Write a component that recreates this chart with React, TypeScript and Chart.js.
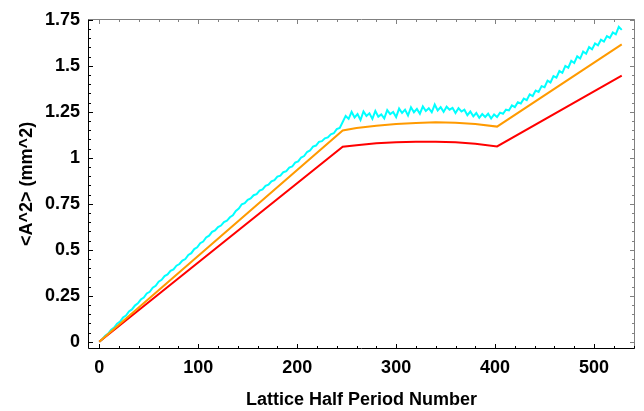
import React, { useEffect, useRef } from "react";
import { Chart, registerables } from "chart.js";

Chart.register(...registerables);

// ---- data ----
const cyanStep = 3; // spacing of cyan samples along x
const cyanValues = [
  0, 0.014, 0.033, 0.045, 0.066, 0.077, 0.099, 0.11, 0.132, 0.143,
  0.165, 0.176, 0.197, 0.209, 0.23, 0.241, 0.263, 0.272, 0.294, 0.305,
  0.327, 0.337, 0.357, 0.366, 0.386, 0.394, 0.414, 0.423, 0.442, 0.45,
  0.472, 0.482, 0.504, 0.514, 0.536, 0.545, 0.567, 0.577, 0.598, 0.606,
  0.624, 0.632, 0.651, 0.658, 0.677, 0.688, 0.712, 0.725, 0.748, 0.754,
  0.772, 0.779, 0.797, 0.803, 0.822, 0.829, 0.848, 0.854, 0.873, 0.879,
  0.898, 0.903, 0.922, 0.928, 0.947, 0.953, 0.974, 0.981, 1.002, 1.01,
  1.032, 1.04, 1.061, 1.067, 1.087, 1.091, 1.106, 1.111, 1.128, 1.134,
  1.156, 1.163,
  1.195, 1.228, 1.212, 1.25, 1.22, 1.238, 1.206, 1.252, 1.228, 1.242,
  1.212, 1.255, 1.224, 1.236, 1.215, 1.26, 1.238, 1.25, 1.222, 1.268,
  1.244, 1.262, 1.23, 1.275, 1.248, 1.266, 1.24, 1.28, 1.255, 1.27,
  1.248, 1.29, 1.258, 1.276, 1.25, 1.278, 1.262, 1.272, 1.244, 1.27,
  1.252, 1.262, 1.232, 1.252, 1.226, 1.244, 1.218, 1.238, 1.222, 1.24,
  1.214, 1.236,
  1.222, 1.246, 1.24, 1.262, 1.258, 1.285,
  1.276, 1.302, 1.296, 1.322, 1.314, 1.345, 1.336, 1.366, 1.358, 1.39,
  1.384, 1.42, 1.41, 1.444, 1.436, 1.472, 1.462, 1.5, 1.49, 1.528,
  1.516, 1.552, 1.54, 1.578, 1.566, 1.602, 1.59, 1.622, 1.612, 1.642,
  1.632, 1.662, 1.652, 1.682, 1.672, 1.712, 1.696,
];

const orangeX = [0, 246, 260, 280, 300, 320, 340, 360, 380, 402, 528];
const orangeY = [0, 1.149, 1.162, 1.175, 1.184, 1.19, 1.193, 1.191, 1.184, 1.17, 1.617];

const redX = [0, 246, 260, 280, 300, 320, 340, 360, 380, 402, 528];
const redY = [0, 1.06, 1.069, 1.079, 1.085, 1.088, 1.088, 1.085, 1.077, 1.062, 1.447];

const xTicks = [0, 100, 200, 300, 400, 500];
const xTickLabels = ["0", "100", "200", "300", "400", "500"];
const yTicks = [0, 0.25, 0.5, 0.75, 1, 1.25, 1.5, 1.75];
const yTickLabels = ["0", "0.25", "0.5", "0.75", "1", "1.25", "1.5", "1.75"];

const xTitle = "Lattice Half Period Number";
const yTitle = "<A^2> (mm^2)";

const X_MIN = -11.4;
const X_MAX = 541.4;
const Y_MIN = -0.039;
const Y_MAX = 1.756;
const X_MINOR = 20;
const Y_MINOR = 0.05;

const FONT = "'Liberation Sans', Arial, Helvetica, sans-serif";

const framePlugin = {
  id: "frameTicks",
  afterDatasetsDraw(chart: any) {
    const { ctx, chartArea, scales } = chart;
    const { left, right, top, bottom } = chartArea;
    const xs = scales.x;
    const ys = scales.y;
    const L = Math.round(left) + 0.5;
    const R = Math.round(right) - 0.5;
    const T = Math.round(top) + 0.5;
    const B = Math.round(bottom) - 0.5;
    ctx.save();
    ctx.lineWidth = 1;
    // frame
    ctx.strokeStyle = "#808080";
    ctx.beginPath();
    ctx.moveTo(L, T);
    ctx.lineTo(R, T);
    ctx.lineTo(R, B);
    ctx.stroke();
    ctx.strokeStyle = "#000";
    ctx.beginPath();
    ctx.moveTo(L, T);
    ctx.lineTo(L, B);
    ctx.lineTo(R, B);
    ctx.stroke();
    // x ticks
    for (let k = 0; k * X_MINOR <= X_MAX; k++) {
      const v = k * X_MINOR;
      const major = k % 5 === 0;
      const len = major ? 4.5 : 2.5;
      const px = Math.round(xs.getPixelForValue(v)) + 0.5;
      ctx.strokeStyle = "#000";
      ctx.beginPath();
      ctx.moveTo(px, B);
      ctx.lineTo(px, B - len);
      ctx.stroke();
      ctx.strokeStyle = "#808080";
      ctx.beginPath();
      ctx.moveTo(px, T);
      ctx.lineTo(px, T + len);
      ctx.stroke();
    }
    // y ticks
    for (let k = 0; k * Y_MINOR <= Y_MAX + 1e-9; k++) {
      const v = k * Y_MINOR;
      const major = k % 5 === 0;
      const len = major ? 4.5 : 2.5;
      const py = Math.round(ys.getPixelForValue(v)) + 0.5;
      ctx.strokeStyle = "#000";
      ctx.beginPath();
      ctx.moveTo(L, py);
      ctx.lineTo(L + len, py);
      ctx.stroke();
      ctx.strokeStyle = "#808080";
      ctx.beginPath();
      ctx.moveTo(R, py);
      ctx.lineTo(R - len, py);
      ctx.stroke();
    }
    ctx.restore();
  },
};

export default function App() {
  const ref = useRef<HTMLCanvasElement | null>(null);

  useEffect(() => {
    const canvas = ref.current;
    if (!canvas) return;

    const cyanPts = cyanValues.map((v, i) => ({ x: i * cyanStep, y: v }));
    const orangePts = orangeX.map((x, i) => ({ x, y: orangeY[i] }));
    const redPts = redX.map((x, i) => ({ x, y: redY[i] }));

    const chart = new Chart(canvas, {
      type: "line",
      data: {
        datasets: [
          {
            label: "cyan",
            data: cyanPts,
            borderColor: "#00ffff",
            borderWidth: 2,
            pointRadius: 0,
            tension: 0,
            order: 3,
          },
          {
            label: "red",
            data: redPts,
            borderColor: "#ff0000",
            borderWidth: 2,
            pointRadius: 0,
            tension: 0,
            order: 2,
          },
          {
            label: "orange",
            data: orangePts,
            borderColor: "#ff9a00",
            borderWidth: 2,
            pointRadius: 0,
            tension: 0,
            order: 1,
          },
        ],
      },
      options: {
        animation: false,
        responsive: false,
        maintainAspectRatio: false,
        layout: { padding: { top: 13, right: 9, left: 0, bottom: 0 } },
        plugins: {
          legend: { display: false },
          tooltip: { enabled: false },
        },
        scales: {
          x: {
            type: "linear",
            min: X_MIN,
            max: X_MAX,
            grid: { display: false, drawTicks: false },
            border: { display: false },
            afterBuildTicks: (scale: any) => {
              scale.ticks = xTicks.map((v) => ({ value: v }));
            },
            afterFit: (scale: any) => {
              scale.height = 62;
            },
            ticks: {
              autoSkip: false,
              maxRotation: 0,
              padding: 8,
              color: "#000",
              font: { family: FONT, size: 18, weight: "bold" },
              callback: (_v: any, i: number) => xTickLabels[i],
            },
            title: {
              display: true,
              text: xTitle,
              color: "#000",
              font: { family: FONT, size: 18, weight: "bold" },
              padding: { top: 0, bottom: 0 },
            },
          },
          y: {
            type: "linear",
            min: Y_MIN,
            max: Y_MAX,
            grid: { display: false, drawTicks: false },
            border: { display: false },
            afterBuildTicks: (scale: any) => {
              scale.ticks = yTicks.map((v) => ({ value: v }));
            },
            afterFit: (scale: any) => {
              scale.width = 88;
            },
            ticks: {
              autoSkip: false,
              padding: 8,
              color: "#000",
              font: { family: FONT, size: 18, weight: "bold" },
              callback: (_v: any, i: number) => yTickLabels[i],
            },
            title: {
              display: true,
              text: yTitle,
              color: "#000",
              font: { family: FONT, size: 18, weight: "bold" },
              padding: { top: 16, bottom: 0 },
            },
          },
        },
      },
      plugins: [framePlugin],
    });

    return () => chart.destroy();
  }, []);

  return (
    <div style={{ position: "fixed", left: 0, top: 0, width: 644, height: 411, background: "#fff" }}>
      <canvas ref={ref} width={644} height={411} style={{ display: "block" }} />
    </div>
  );
}
